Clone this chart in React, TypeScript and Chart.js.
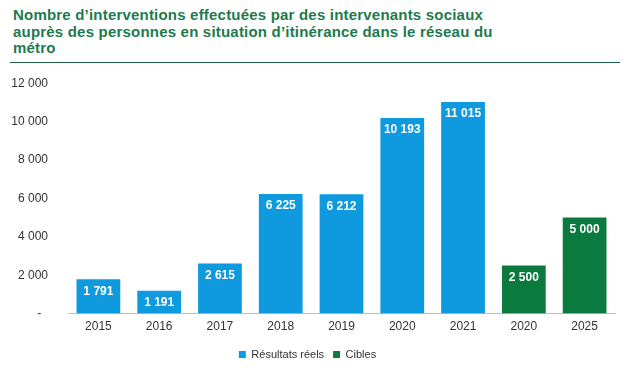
import React, { useEffect, useRef } from "react";
import { Chart, registerables } from "chart.js";

Chart.register(...registerables);

const categories = ["2015", "2016", "2017", "2018", "2019", "2020", "2021", "2020", "2025"];
const actualValues = [1791, 1191, 2615, 6225, 6212, 10193, 11015, null, null];
const targetValues = [null, null, null, null, null, null, null, 2500, 5000];
const seriesNames = ["Résultats réels", "Cibles"];
const titleLines = [
  "Nombre d’interventions effectuées par des intervenants sociaux",
  "auprès des personnes en situation d’itinérance dans le réseau du",
  "métro",
];

const BLUE = "#0F9ADF";
const GREEN = "#0B7A3F";
const FONT = "'Liberation Sans', Arial, sans-serif";

const fmt = (v: number) => Math.round(v).toString().replace(/\B(?=(\d{3})+(?!\d))/g, " ");
const fmtAxis = (v: number) => (v === 0 ? "-     " : fmt(v) + "   ");

const labelPlugin = {
  id: "barLabels",
  afterDatasetsDraw(chart: any) {
    const ctx = chart.ctx;
    ctx.save();
    ctx.font = `bold 12px ${FONT}`;
    ctx.fillStyle = "#ffffff";
    ctx.textAlign = "center";
    ctx.textBaseline = "middle";
    chart.data.datasets.forEach((ds: any, di: number) => {
      const meta = chart.getDatasetMeta(di);
      meta.data.forEach((el: any, i: number) => {
        const v = ds.data[i];
        if (v == null) return;
        ctx.fillText(fmt(v), el.x, el.y + 12);
      });
    });
    ctx.restore();
  },
};

export default function App() {
  const ref = useRef<HTMLCanvasElement>(null);
  useEffect(() => {
    document.body.style.margin = "0";
    const chart = new Chart(ref.current!, {
      type: "bar",
      data: {
        labels: categories,
        datasets: [
          { label: seriesNames[0], data: actualValues as any, backgroundColor: BLUE },
          { label: seriesNames[1], data: targetValues as any, backgroundColor: GREEN },
        ],
      },
      options: {
        animation: false,
        responsive: false,
        maintainAspectRatio: false,
        layout: { padding: { top: 8, right: 15, left: 0, bottom: 2 } },
        datasets: { bar: { categoryPercentage: 1, barPercentage: 0.72 } },
        scales: {
          x: {
            stacked: true,
            grid: { display: false, drawTicks: false },
            border: { display: true, color: "#BFBFBF", width: 1 },
            ticks: { color: "#333333", font: { family: FONT, size: 12 }, padding: 6 },
          },
          y: {
            stacked: true,
            min: 0,
            max: 12000,
            afterFit(scale: any) {
              scale.width = 68;
            },
            grid: { display: false, drawTicks: false },
            border: { display: false },
            ticks: {
              stepSize: 2000,
              color: "#333333",
              font: { family: FONT, size: 12 },
              padding: 10,
              callback: (v: any) => fmtAxis(Number(v)),
            },
          },
        },
        plugins: {
          legend: {
            position: "bottom",
            labels: {
              color: "#333333",
              font: { family: FONT, size: 11 },
              boxWidth: 7,
              boxHeight: 7,
              padding: 9,
            },
          },
          tooltip: { enabled: false },
        },
      },
      plugins: [labelPlugin],
    });
    return () => chart.destroy();
  }, []);

  return (
    <div style={{ position: "relative", width: 630, height: 372, background: "#fff", fontFamily: FONT }}>
      <div
        style={{
          position: "absolute",
          left: 10,
          top: 7,
          width: 610,
          height: 56,
          borderBottom: "1px solid #1F5E45",
          color: "#1E7A4E",
          fontWeight: "bold",
          fontSize: 15,
          letterSpacing: "0.2px",
          lineHeight: "16.5px",
          paddingLeft: 3,
          boxSizing: "border-box",
        }}
      >
        {titleLines.map((l, i) => (
          <div key={i}>{l}</div>
        ))}
      </div>
      <canvas ref={ref} width={630} height={306} style={{ position: "absolute", left: 0, top: 66 }} />
    </div>
  );
}
